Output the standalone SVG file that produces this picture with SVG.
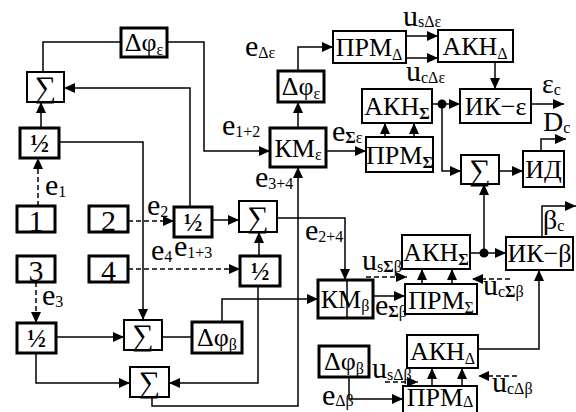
<svg xmlns="http://www.w3.org/2000/svg" width="576" height="412" viewBox="0 0 576 412" font-family="Liberation Serif, Times New Roman, serif">
<defs>
<marker id="a" markerUnits="userSpaceOnUse" markerWidth="11" markerHeight="10" refX="11" refY="5" orient="auto"><path d="M0,0 L11,5 L0,10 z" fill="#000"/></marker>
<style>
.b{fill:#fff;stroke:#000;stroke-width:2}
.t{stroke-width:3}
text{font-family:"Liberation Serif","Times New Roman",serif;fill:#000}
.L{font-size:26px;text-anchor:middle}
.N{font-size:30px;text-anchor:middle}
.H{font-size:25px;font-weight:bold;text-anchor:middle}
.S{font-size:30px;text-anchor:middle}
.sb{font-size:16px}
.l{font-size:30px}
.l .sb{font-size:16px}
.bd{font-weight:bold}
#c path{fill:none;stroke:#000;stroke-width:1.5}
#c .ar{marker-end:url(#a)}
#c .d{stroke-dasharray:5 3}
</style>
</defs>
<rect width="576" height="412" fill="#fff"/>
<g id="c">
<path d="M43,72 V42 H121"/>
<path class="ar" d="M167,42 H204 V151 H270"/>
<path class="ar" d="M41,128 V102"/>
<path class="ar d" d="M38,206 V158"/>
<path class="ar" d="M59,142 H143 V320"/>
<path class="ar" d="M190,207 V88 H64"/>
<path class="ar d" d="M128,221 H174"/>
<path class="ar" d="M212,220 H239"/>
<path class="ar" d="M259,256 V232"/>
<path class="ar d" d="M128,269 H240"/>
<path class="ar" d="M277,218 H345 V280"/>
<path class="ar d" d="M36,282 V323"/>
<path class="ar" d="M56,337 H124"/>
<path class="ar" d="M36,353 V383 H130"/>
<path class="ar" d="M258,286 V383 H169"/>
<path class="ar" d="M152,397 V406 H298 V167"/>
<path d="M162,337 H192"/>
<path class="ar" d="M222,322 V299 H318"/>
<path class="ar" d="M373,296 H405"/>
<path class="ar" d="M349,377 V399 H403"/>
<path class="ar" d="M298,128 V102"/>
<path class="ar" d="M298,71 V47 H333"/>
<path class="ar" d="M406,36 H438"/>
<path class="ar" d="M406,58 H438"/>
<path class="ar" d="M495,62 V89"/>
<path class="ar" d="M326,151 H366"/>
<path class="ar" d="M385,137 V123"/>
<path class="ar" d="M414,137 V123"/>
<path class="ar" d="M432,104 H460"/>
<path class="ar" d="M442,104 V171 H461"/>
<path class="ar" d="M531,104 H564"/>
<path class="ar" d="M499,171 H523"/>
<path class="ar" d="M541,151 V139 H566"/>
<path class="ar" d="M422,284 V269"/>
<path class="ar" d="M452,284 V269"/>
<path class="ar" d="M470,253 H506"/>
<path class="ar" d="M484,253 V184"/>
<path class="ar" d="M542,237 V206 H576"/>
<path class="ar d" d="M366,277 H407"/>
<path class="ar d" d="M510,279 H472"/>
<path class="ar" d="M432,386 V368"/>
<path class="ar" d="M462,386 V368"/>
<path class="ar d" d="M385,382 H418"/>
<path class="ar d" d="M517,376 H478"/>
<path class="ar" d="M478,349 H539 V270"/>
<circle cx="442" cy="104" r="4.5" fill="#000"/>
<circle cx="484" cy="253" r="4.5" fill="#000"/>
</g>
<g id="dphiE1"><rect class="b t" x="121" y="28" width="46" height="29"/><text class="L" x="144" y="51">Δφ<tspan class="sb" dy="4">ε</tspan></text></g>
<g id="sumTL"><rect class="b" x="27" y="72" width="37" height="30"/><text class="S" x="45.5" y="97">∑</text></g>
<g id="halfTL"><rect class="b t" x="20" y="128" width="39" height="30"/><text class="H" x="39.5" y="152">½</text></g>
<g id="n1"><rect class="b t" x="17" y="206" width="38" height="26"/><text class="N" x="36" y="231">1</text></g>
<g id="n2"><rect class="b t" x="89" y="206" width="39" height="26"/><text class="N" x="108.5" y="231">2</text></g>
<g id="n3"><rect class="b t" x="17" y="256" width="38" height="26"/><text class="N" x="36" y="281">3</text></g>
<g id="n4"><rect class="b t" x="89" y="256" width="39" height="26"/><text class="N" x="108.5" y="281">4</text></g>
<g id="halfE2"><rect class="b t" x="174" y="207" width="38" height="30"/><text class="H" x="193" y="231">½</text></g>
<g id="sumMid"><rect class="b" x="239" y="201" width="38" height="31"/><text class="S" x="258" y="227">∑</text></g>
<g id="halfE4"><rect class="b t" x="240" y="256" width="40" height="30"/><text class="H" x="260" y="280">½</text></g>
<g id="halfBL"><rect class="b t" x="17" y="323" width="39" height="30"/><text class="H" x="36.5" y="347">½</text></g>
<g id="sumBL"><rect class="b" x="124" y="320" width="38" height="30"/><text class="S" x="143" y="345">∑</text></g>
<g id="sumB"><rect class="b" x="130" y="367" width="39" height="30"/><text class="S" x="149.5" y="392">∑</text></g>
<g id="dphiB1"><rect class="b t" x="192" y="322" width="50" height="31"/><text class="L" x="217" y="346">Δφ<tspan class="sb" dy="4">β</tspan></text></g>
<g id="kmB"><rect class="b t" x="318" y="280" width="55" height="38"/><text class="L" x="345" y="308">КМ<tspan class="sb" dy="3">β</tspan></text><path d="M347,280 V318" stroke="#000" stroke-width="1.5"/></g>
<g id="dphiB2"><rect class="b t" x="319" y="346" width="50" height="31"/><text class="L" x="344" y="370">Δφ<tspan class="sb" dy="4">β</tspan></text></g>
<g id="kmE"><rect class="b t" x="270" y="128" width="56" height="39"/><text class="L" x="298" y="157">КМ<tspan class="sb" dy="3">ε</tspan></text></g>
<g id="dphiE2"><rect class="b t" x="278" y="71" width="46" height="31"/><text class="L" x="301" y="95">Δφ<tspan class="sb" dy="4">ε</tspan></text></g>
<g id="prmD1"><rect class="b" x="333" y="31" width="73" height="32"/><text class="L" x="369" y="56">ПРМ<tspan class="sb" dy="4">Δ</tspan></text></g>
<g id="akhD1"><rect class="b" x="438" y="30" width="75" height="32"/><text class="L" x="475" y="55">АКН<tspan class="sb" dy="4">Δ</tspan></text></g>
<g id="akhS1"><rect class="b" x="362" y="89" width="70" height="34"/><text class="L" x="397" y="115">АКН<tspan class="sb bd" dy="4">Σ</tspan></text></g>
<g id="prmS1"><rect class="b" x="366" y="137" width="67" height="35"/><text class="L" x="399.5" y="164">ПРМ<tspan class="sb bd" dy="4">Σ</tspan></text></g>
<g id="ikE"><rect class="b" x="460" y="89" width="71" height="34"/><text class="L" x="495.5" y="115">ИК−ε</text></g>
<g id="sumR"><rect class="b" x="461" y="155" width="38" height="29"/><text class="S" x="480" y="180">∑</text></g>
<g id="id"><rect class="b" x="523" y="151" width="41" height="36"/><text class="L" x="543.5" y="178">ИД</text></g>
<g id="akhS2"><rect class="b" x="402" y="235" width="68" height="34"/><text class="L" x="436" y="261">АКН<tspan class="sb bd" dy="4">Σ</tspan></text></g>
<g id="prmS2"><rect class="b" x="405" y="284" width="72" height="30"/><text class="L" x="441" y="309">ПРМ<tspan class="sb" dy="4">Σ</tspan></text></g>
<g id="ikB"><rect class="b" x="506" y="237" width="67" height="33"/><text class="L" x="539.5" y="262">ИК−β</text></g>
<g id="akhD2"><rect class="b" x="407" y="335" width="71" height="33"/><text class="L" x="442.5" y="360">АКН<tspan class="sb" dy="4">Δ</tspan></text></g>
<g id="prmD2"><rect class="b" x="403" y="386" width="74" height="30"/><text class="L" x="440" y="406">ПРМ<tspan class="sb" dy="1">Δ</tspan></text></g>
<g id="labels" class="l">
<text x="45" y="195">e<tspan class="sb" dy="2">1</tspan></text>
<text x="147" y="215">e<tspan class="sb" dy="2">2</tspan></text>
<text x="151" y="260">e<tspan class="sb" dy="2">4</tspan></text>
<text x="174" y="256">e<tspan class="sb" dy="2">1+3</tspan></text>
<text x="42" y="305">e<tspan class="sb" dy="2">3</tspan></text>
<text x="222" y="135">e<tspan class="sb" dy="2">1+2</tspan></text>
<text x="255" y="187">e<tspan class="sb" dy="2">3+4</tspan></text>
<text x="305" y="240">e<tspan class="sb" dy="2">2+4</tspan></text>
<text x="332" y="141">e<tspan class="sb bd" dy="2">Σ</tspan><tspan class="sb">ε</tspan></text>
<text x="245" y="56">e<tspan class="sb" dy="2">Δε</tspan></text>
<text x="403" y="26">u<tspan class="sb" dy="1">sΔε</tspan></text>
<text x="406" y="81">u<tspan class="sb" dy="2">cΔε</tspan></text>
<text x="542" y="93" font-size="28">ε<tspan class="sb" dy="2">c</tspan></text>
<text x="543" y="131" font-size="28">D<tspan class="sb" dy="2">c</tspan></text>
<text x="543" y="229" font-size="28">β<tspan class="sb" dy="2">c</tspan></text>
<text x="362" y="270">u<tspan class="sb" dy="2">s</tspan><tspan class="sb bd">Σ</tspan><tspan class="sb">β</tspan></text>
<text x="483" y="295">u<tspan class="sb" dy="2">c</tspan><tspan class="sb bd">Σ</tspan><tspan class="sb">β</tspan></text>
<text x="375" y="315">e<tspan class="sb bd" dy="2">Σ</tspan><tspan class="sb">β</tspan></text>
<text x="372" y="378">u<tspan class="sb" dy="2">sΔβ</tspan></text>
<text x="492" y="392">u<tspan class="sb" dy="2">cΔβ</tspan></text>
<text x="322" y="405">e<tspan class="sb" dy="1">Δβ</tspan></text>
</g>
</svg>
